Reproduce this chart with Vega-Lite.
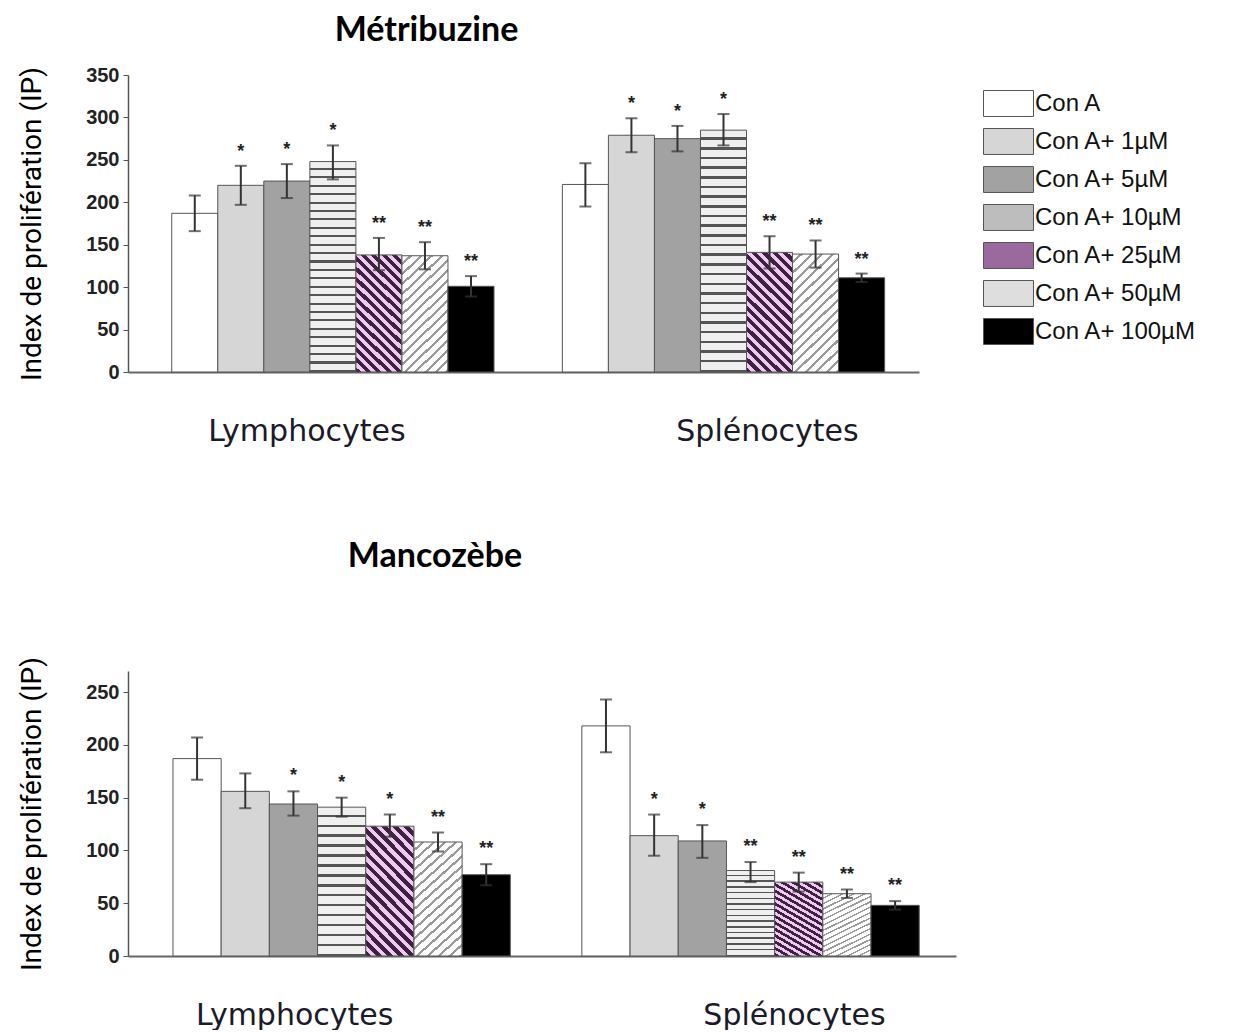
{
  "$schema": "https://vega.github.io/schema/vega-lite/v6.json",
  "background": "white",
  "padding": {"left": 18, "top": 14, "right": 5, "bottom": 0},
  "spacing": 94,
  "resolve": {"scale": {"xOffset": "independent", "x": "independent", "y": "independent"}},
  "config": {
    "view": {"stroke": null},
    "axisY": {"labelFont": "Liberation Sans", "labelFontSize": 20, "labelFontWeight": "bold", "labelColor": "#222", "labelPadding": 4, "tickSize": 5, "tickColor": "#555", "domainColor": "#555", "domainWidth": 1.5, "grid": false, "titleFont": "Roboto", "titleFontSize": 28, "titleFontWeight": "normal", "titleColor": "#000", "titlePadding": 39},
    "axisX": {"labelFont": "DejaVu Sans", "labelFontSize": 30, "labelColor": "#1a1a2a", "labelPadding": 44, "labelLimit": 500, "ticks": false, "domainColor": "#666", "domainWidth": 2, "labelAngle": 0}
  },
  "datasets": {
    "metri": [
      {"cell": "Lymphocytes", "dose": "Con A", "value": 187, "lo": 166, "hi": 208, "sig": ""},
      {"cell": "Lymphocytes", "dose": "Con A+ 1µM", "value": 220, "lo": 197, "hi": 243, "sig": "*"},
      {"cell": "Lymphocytes", "dose": "Con A+ 5µM", "value": 225, "lo": 205, "hi": 245, "sig": "*"},
      {"cell": "Lymphocytes", "dose": "Con A+ 10µM", "value": 248, "lo": 227, "hi": 267, "sig": "*"},
      {"cell": "Lymphocytes", "dose": "Con A+ 25µM", "value": 138, "lo": 120, "hi": 158, "sig": "**"},
      {"cell": "Lymphocytes", "dose": "Con A+ 50µM", "value": 137, "lo": 121, "hi": 153, "sig": "**"},
      {"cell": "Lymphocytes", "dose": "Con A+ 100µM", "value": 101, "lo": 89, "hi": 113, "sig": "**"},
      {"cell": "Splénocytes", "dose": "Con A", "value": 221, "lo": 195, "hi": 246, "sig": ""},
      {"cell": "Splénocytes", "dose": "Con A+ 1µM", "value": 279, "lo": 259, "hi": 299, "sig": "*"},
      {"cell": "Splénocytes", "dose": "Con A+ 5µM", "value": 275, "lo": 260, "hi": 290, "sig": "*"},
      {"cell": "Splénocytes", "dose": "Con A+ 10µM", "value": 285, "lo": 267, "hi": 304, "sig": "*"},
      {"cell": "Splénocytes", "dose": "Con A+ 25µM", "value": 141, "lo": 122, "hi": 160, "sig": "**"},
      {"cell": "Splénocytes", "dose": "Con A+ 50µM", "value": 139, "lo": 123, "hi": 155, "sig": "**"},
      {"cell": "Splénocytes", "dose": "Con A+ 100µM", "value": 111, "lo": 106, "hi": 116, "sig": "**"}
    ],
    "manco": [
      {"cell": "Lymphocytes", "dose": "Con A", "value": 187, "lo": 167, "hi": 207, "sig": ""},
      {"cell": "Lymphocytes", "dose": "Con A+ 1µM", "value": 156, "lo": 140, "hi": 173, "sig": ""},
      {"cell": "Lymphocytes", "dose": "Con A+ 5µM", "value": 144, "lo": 133, "hi": 156, "sig": "*"},
      {"cell": "Lymphocytes", "dose": "Con A+ 10µM", "value": 141, "lo": 132, "hi": 150, "sig": "*"},
      {"cell": "Lymphocytes", "dose": "Con A+ 25µM", "value": 123, "lo": 113, "hi": 134, "sig": "*"},
      {"cell": "Lymphocytes", "dose": "Con A+ 50µM", "value": 108, "lo": 99, "hi": 117, "sig": "**"},
      {"cell": "Lymphocytes", "dose": "Con A+ 100µM", "value": 77, "lo": 67, "hi": 87, "sig": "**"},
      {"cell": "Splénocytes", "dose": "Con A", "value": 218, "lo": 193, "hi": 243, "sig": ""},
      {"cell": "Splénocytes", "dose": "Con A+ 1µM", "value": 114, "lo": 95, "hi": 134, "sig": "*"},
      {"cell": "Splénocytes", "dose": "Con A+ 5µM", "value": 109, "lo": 93, "hi": 124, "sig": "*"},
      {"cell": "Splénocytes", "dose": "Con A+ 10µM", "value": 81, "lo": 70, "hi": 89, "sig": "**"},
      {"cell": "Splénocytes", "dose": "Con A+ 25µM", "value": 70, "lo": 61, "hi": 79, "sig": "**"},
      {"cell": "Splénocytes", "dose": "Con A+ 50µM", "value": 59, "lo": 55, "hi": 63, "sig": "**"},
      {"cell": "Splénocytes", "dose": "Con A+ 100µM", "value": 48, "lo": 44, "hi": 52, "sig": "**"}
    ]
  },
  "vconcat": [
    {
      "title": {"text": "Métribuzine", "font": "Lato", "fontSize": 34, "fontWeight": "bold", "color": "#000", "anchor": "middle", "frame": "group", "dx": -97, "baseline": "alphabetic", "offset": -10},
      "width": 791,
      "height": 297,
      "data": {"name": "metri"},
      "encoding": {
        "x": {"field": "cell", "type": "nominal", "title": null, "sort": ["Lymphocytes", "Splénocytes"], "scale": {"paddingInner": 0.175, "paddingOuter": 0.1, "align": 0.56}, "axis": {"labelOffset": {"condition": {"test": "datum.value === 'Lymphocytes'", "value": -26}, "value": 44}}},
        "xOffset": {"field": "dose", "type": "nominal", "sort": ["Con A", "Con A+ 1µM", "Con A+ 5µM", "Con A+ 10µM", "Con A+ 25µM", "Con A+ 50µM", "Con A+ 100µM"], "scale": {"paddingInner": 0, "paddingOuter": 0}}
      },
      "layer": [
        {
          "mark": {"type": "bar", "stroke": "#555", "strokeWidth": 1},
          "encoding": {
            "y": {"field": "value", "type": "quantitative", "title": "Index de prolifération (IP)", "scale": {"domain": [0, 350], "nice": false}, "axis": {"values": [0, 50, 100, 150, 200, 250, 300, 350]}},
            "fill": {
              "condition": [
                {"test": "datum.dose === 'Con A+ 10µM'", "value": {"gradient": "linear", "x1": 0, "y1": 0, "x2": 0, "y2": 1, "stops": [
                    {"offset": 0, "color": "#efefef"}, {"offset": 0.03, "color": "#efefef"}, {"offset": 0.03, "color": "#555555"}, {"offset": 0.04, "color": "#555555"},
                    {"offset": 0.04, "color": "#efefef"}, {"offset": 0.07, "color": "#efefef"}, {"offset": 0.07, "color": "#555555"}, {"offset": 0.08, "color": "#555555"},
                    {"offset": 0.08, "color": "#efefef"}, {"offset": 0.11, "color": "#efefef"}, {"offset": 0.11, "color": "#555555"}, {"offset": 0.12, "color": "#555555"},
                    {"offset": 0.12, "color": "#efefef"}, {"offset": 0.15, "color": "#efefef"}, {"offset": 0.15, "color": "#555555"}, {"offset": 0.16, "color": "#555555"},
                    {"offset": 0.16, "color": "#efefef"}, {"offset": 0.19, "color": "#efefef"}, {"offset": 0.19, "color": "#555555"}, {"offset": 0.2, "color": "#555555"},
                    {"offset": 0.2, "color": "#efefef"}, {"offset": 0.23, "color": "#efefef"}, {"offset": 0.23, "color": "#555555"}, {"offset": 0.24, "color": "#555555"},
                    {"offset": 0.24, "color": "#efefef"}, {"offset": 0.27, "color": "#efefef"}, {"offset": 0.27, "color": "#555555"}, {"offset": 0.28, "color": "#555555"},
                    {"offset": 0.28, "color": "#efefef"}, {"offset": 0.31, "color": "#efefef"}, {"offset": 0.31, "color": "#555555"}, {"offset": 0.32, "color": "#555555"},
                    {"offset": 0.32, "color": "#efefef"}, {"offset": 0.35, "color": "#efefef"}, {"offset": 0.35, "color": "#555555"}, {"offset": 0.36, "color": "#555555"},
                    {"offset": 0.36, "color": "#efefef"}, {"offset": 0.39, "color": "#efefef"}, {"offset": 0.39, "color": "#555555"}, {"offset": 0.4, "color": "#555555"},
                    {"offset": 0.4, "color": "#efefef"}, {"offset": 0.43, "color": "#efefef"}, {"offset": 0.43, "color": "#555555"}, {"offset": 0.44, "color": "#555555"},
                    {"offset": 0.44, "color": "#efefef"}, {"offset": 0.47, "color": "#efefef"}, {"offset": 0.47, "color": "#555555"}, {"offset": 0.48, "color": "#555555"},
                    {"offset": 0.48, "color": "#efefef"}, {"offset": 0.51, "color": "#efefef"}, {"offset": 0.51, "color": "#555555"}, {"offset": 0.52, "color": "#555555"},
                    {"offset": 0.52, "color": "#efefef"}, {"offset": 0.55, "color": "#efefef"}, {"offset": 0.55, "color": "#555555"}, {"offset": 0.56, "color": "#555555"},
                    {"offset": 0.56, "color": "#efefef"}, {"offset": 0.59, "color": "#efefef"}, {"offset": 0.59, "color": "#555555"}, {"offset": 0.6, "color": "#555555"},
                    {"offset": 0.6, "color": "#efefef"}, {"offset": 0.63, "color": "#efefef"}, {"offset": 0.63, "color": "#555555"}, {"offset": 0.64, "color": "#555555"},
                    {"offset": 0.64, "color": "#efefef"}, {"offset": 0.67, "color": "#efefef"}, {"offset": 0.67, "color": "#555555"}, {"offset": 0.68, "color": "#555555"},
                    {"offset": 0.68, "color": "#efefef"}, {"offset": 0.71, "color": "#efefef"}, {"offset": 0.71, "color": "#555555"}, {"offset": 0.72, "color": "#555555"},
                    {"offset": 0.72, "color": "#efefef"}, {"offset": 0.75, "color": "#efefef"}, {"offset": 0.75, "color": "#555555"}, {"offset": 0.76, "color": "#555555"},
                    {"offset": 0.76, "color": "#efefef"}, {"offset": 0.79, "color": "#efefef"}, {"offset": 0.79, "color": "#555555"}, {"offset": 0.8, "color": "#555555"},
                    {"offset": 0.8, "color": "#efefef"}, {"offset": 0.83, "color": "#efefef"}, {"offset": 0.83, "color": "#555555"}, {"offset": 0.84, "color": "#555555"},
                    {"offset": 0.84, "color": "#efefef"}, {"offset": 0.87, "color": "#efefef"}, {"offset": 0.87, "color": "#555555"}, {"offset": 0.88, "color": "#555555"},
                    {"offset": 0.88, "color": "#efefef"}, {"offset": 0.91, "color": "#efefef"}, {"offset": 0.91, "color": "#555555"}, {"offset": 0.92, "color": "#555555"},
                    {"offset": 0.92, "color": "#efefef"}, {"offset": 0.95, "color": "#efefef"}, {"offset": 0.95, "color": "#555555"}, {"offset": 0.96, "color": "#555555"},
                    {"offset": 0.96, "color": "#efefef"}, {"offset": 0.99, "color": "#efefef"}, {"offset": 0.99, "color": "#555555"}, {"offset": 1, "color": "#555555"}
                  ]}},
                {"test": "datum.dose === 'Con A+ 25µM'", "value": {"gradient": "linear", "x1": 1, "y1": 0, "x2": 0.542, "y2": 1.206, "stops": [
                    {"offset": 0, "color": "#efc9ef"}, {"offset": 0.03125, "color": "#efc9ef"}, {"offset": 0.03125, "color": "#3d2140"}, {"offset": 0.0625, "color": "#3d2140"},
                    {"offset": 0.0625, "color": "#efc9ef"}, {"offset": 0.09375, "color": "#efc9ef"}, {"offset": 0.09375, "color": "#3d2140"}, {"offset": 0.125, "color": "#3d2140"},
                    {"offset": 0.125, "color": "#efc9ef"}, {"offset": 0.15625, "color": "#efc9ef"}, {"offset": 0.15625, "color": "#3d2140"}, {"offset": 0.1875, "color": "#3d2140"},
                    {"offset": 0.1875, "color": "#efc9ef"}, {"offset": 0.21875, "color": "#efc9ef"}, {"offset": 0.21875, "color": "#3d2140"}, {"offset": 0.25, "color": "#3d2140"},
                    {"offset": 0.25, "color": "#efc9ef"}, {"offset": 0.28125, "color": "#efc9ef"}, {"offset": 0.28125, "color": "#3d2140"}, {"offset": 0.3125, "color": "#3d2140"},
                    {"offset": 0.3125, "color": "#efc9ef"}, {"offset": 0.34375, "color": "#efc9ef"}, {"offset": 0.34375, "color": "#3d2140"}, {"offset": 0.375, "color": "#3d2140"},
                    {"offset": 0.375, "color": "#efc9ef"}, {"offset": 0.40625, "color": "#efc9ef"}, {"offset": 0.40625, "color": "#3d2140"}, {"offset": 0.4375, "color": "#3d2140"},
                    {"offset": 0.4375, "color": "#efc9ef"}, {"offset": 0.46875, "color": "#efc9ef"}, {"offset": 0.46875, "color": "#3d2140"}, {"offset": 0.5, "color": "#3d2140"},
                    {"offset": 0.5, "color": "#efc9ef"}, {"offset": 0.53125, "color": "#efc9ef"}, {"offset": 0.53125, "color": "#3d2140"}, {"offset": 0.5625, "color": "#3d2140"},
                    {"offset": 0.5625, "color": "#efc9ef"}, {"offset": 0.59375, "color": "#efc9ef"}, {"offset": 0.59375, "color": "#3d2140"}, {"offset": 0.625, "color": "#3d2140"},
                    {"offset": 0.625, "color": "#efc9ef"}, {"offset": 0.65625, "color": "#efc9ef"}, {"offset": 0.65625, "color": "#3d2140"}, {"offset": 0.6875, "color": "#3d2140"},
                    {"offset": 0.6875, "color": "#efc9ef"}, {"offset": 0.71875, "color": "#efc9ef"}, {"offset": 0.71875, "color": "#3d2140"}, {"offset": 0.75, "color": "#3d2140"},
                    {"offset": 0.75, "color": "#efc9ef"}, {"offset": 0.78125, "color": "#efc9ef"}, {"offset": 0.78125, "color": "#3d2140"}, {"offset": 0.8125, "color": "#3d2140"},
                    {"offset": 0.8125, "color": "#efc9ef"}, {"offset": 0.84375, "color": "#efc9ef"}, {"offset": 0.84375, "color": "#3d2140"}, {"offset": 0.875, "color": "#3d2140"},
                    {"offset": 0.875, "color": "#efc9ef"}, {"offset": 0.90625, "color": "#efc9ef"}, {"offset": 0.90625, "color": "#3d2140"}, {"offset": 0.9375, "color": "#3d2140"},
                    {"offset": 0.9375, "color": "#efc9ef"}, {"offset": 0.96875, "color": "#efc9ef"}, {"offset": 0.96875, "color": "#3d2140"}, {"offset": 1, "color": "#3d2140"}
                  ]}},
                {"test": "datum.dose === 'Con A+ 50µM'", "value": {"gradient": "linear", "x1": 0, "y1": 0, "x2": 0.458, "y2": 1.206, "stops": [
                    {"offset": 0, "color": "#ffffff"}, {"offset": 0.04375, "color": "#ffffff"}, {"offset": 0.04375, "color": "#9a9a9a"}, {"offset": 0.0625, "color": "#9a9a9a"},
                    {"offset": 0.0625, "color": "#ffffff"}, {"offset": 0.10625, "color": "#ffffff"}, {"offset": 0.10625, "color": "#9a9a9a"}, {"offset": 0.125, "color": "#9a9a9a"},
                    {"offset": 0.125, "color": "#ffffff"}, {"offset": 0.16875, "color": "#ffffff"}, {"offset": 0.16875, "color": "#9a9a9a"}, {"offset": 0.1875, "color": "#9a9a9a"},
                    {"offset": 0.1875, "color": "#ffffff"}, {"offset": 0.23125, "color": "#ffffff"}, {"offset": 0.23125, "color": "#9a9a9a"}, {"offset": 0.25, "color": "#9a9a9a"},
                    {"offset": 0.25, "color": "#ffffff"}, {"offset": 0.29375, "color": "#ffffff"}, {"offset": 0.29375, "color": "#9a9a9a"}, {"offset": 0.3125, "color": "#9a9a9a"},
                    {"offset": 0.3125, "color": "#ffffff"}, {"offset": 0.35625, "color": "#ffffff"}, {"offset": 0.35625, "color": "#9a9a9a"}, {"offset": 0.375, "color": "#9a9a9a"},
                    {"offset": 0.375, "color": "#ffffff"}, {"offset": 0.41875, "color": "#ffffff"}, {"offset": 0.41875, "color": "#9a9a9a"}, {"offset": 0.4375, "color": "#9a9a9a"},
                    {"offset": 0.4375, "color": "#ffffff"}, {"offset": 0.48125, "color": "#ffffff"}, {"offset": 0.48125, "color": "#9a9a9a"}, {"offset": 0.5, "color": "#9a9a9a"},
                    {"offset": 0.5, "color": "#ffffff"}, {"offset": 0.54375, "color": "#ffffff"}, {"offset": 0.54375, "color": "#9a9a9a"}, {"offset": 0.5625, "color": "#9a9a9a"},
                    {"offset": 0.5625, "color": "#ffffff"}, {"offset": 0.60625, "color": "#ffffff"}, {"offset": 0.60625, "color": "#9a9a9a"}, {"offset": 0.625, "color": "#9a9a9a"},
                    {"offset": 0.625, "color": "#ffffff"}, {"offset": 0.66875, "color": "#ffffff"}, {"offset": 0.66875, "color": "#9a9a9a"}, {"offset": 0.6875, "color": "#9a9a9a"},
                    {"offset": 0.6875, "color": "#ffffff"}, {"offset": 0.73125, "color": "#ffffff"}, {"offset": 0.73125, "color": "#9a9a9a"}, {"offset": 0.75, "color": "#9a9a9a"},
                    {"offset": 0.75, "color": "#ffffff"}, {"offset": 0.79375, "color": "#ffffff"}, {"offset": 0.79375, "color": "#9a9a9a"}, {"offset": 0.8125, "color": "#9a9a9a"},
                    {"offset": 0.8125, "color": "#ffffff"}, {"offset": 0.85625, "color": "#ffffff"}, {"offset": 0.85625, "color": "#9a9a9a"}, {"offset": 0.875, "color": "#9a9a9a"},
                    {"offset": 0.875, "color": "#ffffff"}, {"offset": 0.91875, "color": "#ffffff"}, {"offset": 0.91875, "color": "#9a9a9a"}, {"offset": 0.9375, "color": "#9a9a9a"},
                    {"offset": 0.9375, "color": "#ffffff"}, {"offset": 0.98125, "color": "#ffffff"}, {"offset": 0.98125, "color": "#9a9a9a"}, {"offset": 1, "color": "#9a9a9a"}
                  ]}}
              ],
              "field": "dose", "type": "nominal",
              "scale": {
                "domain": ["Con A", "Con A+ 1µM", "Con A+ 5µM", "Con A+ 10µM", "Con A+ 25µM", "Con A+ 50µM", "Con A+ 100µM"],
                "range": ["#ffffff", "#d6d6d6", "#a2a2a2", "#bdbdbd", "#9a6a9e", "#dedede", "#000000"]
              },
              "legend": {"orient": "none", "legendX": 858, "legendY": 6, "title": null, "symbolType": "M-1.136,-0.59H1.136V0.59H-1.136Z", "symbolSize": 1936, "symbolStrokeColor": "#777", "symbolStrokeWidth": 1, "labelFont": "Liberation Sans", "labelFontSize": 24, "labelColor": "#111", "labelOffset": 4, "rowPadding": 0, "labelLimit": 300}
            }
          }
        },
        {
          "mark": {"type": "rule", "color": "#333", "strokeWidth": 2},
          "encoding": {"y": {"field": "lo", "type": "quantitative", "title": "Index de prolifération (IP)"}, "y2": {"field": "hi"}}
        },
        {
          "mark": {"type": "tick", "color": "#333", "thickness": 2, "size": 12},
          "encoding": {"y": {"field": "hi", "type": "quantitative", "title": "Index de prolifération (IP)"}}
        },
        {
          "mark": {"type": "tick", "color": "#333", "thickness": 2, "size": 12},
          "encoding": {"y": {"field": "lo", "type": "quantitative", "title": "Index de prolifération (IP)"}}
        },
        {
          "mark": {"type": "text", "dy": -9, "fontSize": 18, "fontWeight": "bold", "baseline": "alphabetic", "font": "Liberation Sans", "color": "#222"},
          "encoding": {"y": {"field": "hi", "type": "quantitative", "title": "Index de prolifération (IP)"}, "text": {"field": "sig"}}
        }
      ]
    },
    {
      "title": {"text": "Mancozèbe", "font": "Lato", "fontSize": 34, "fontWeight": "bold", "color": "#000", "anchor": "middle", "frame": "group", "dx": -107, "baseline": "alphabetic", "offset": 55},
      "width": 828,
      "height": 285,
      "data": {"name": "manco"},
      "encoding": {
        "x": {"field": "cell", "type": "nominal", "title": null, "sort": ["Lymphocytes", "Splénocytes"], "scale": {"paddingInner": 0.175, "paddingOuter": 0.1, "align": 0.55}, "axis": {"labelOffset": {"condition": {"test": "datum.value === 'Lymphocytes'", "value": -47}, "value": 44}}},
        "xOffset": {"field": "dose", "type": "nominal", "sort": ["Con A", "Con A+ 1µM", "Con A+ 5µM", "Con A+ 10µM", "Con A+ 25µM", "Con A+ 50µM", "Con A+ 100µM"], "scale": {"paddingInner": 0, "paddingOuter": 0}}
      },
      "layer": [
        {
          "mark": {"type": "bar", "stroke": "#555", "strokeWidth": 1},
          "encoding": {
            "y": {"field": "value", "type": "quantitative", "title": "Index de prolifération (IP)", "scale": {"domain": [0, 270], "nice": false}, "axis": {"values": [0, 50, 100, 150, 200, 250]}},
            "fill": {
              "condition": [
                {"test": "datum.dose === 'Con A+ 10µM'", "value": {"gradient": "linear", "x1": 0, "y1": 0, "x2": 0, "y2": 1, "stops": [
                    {"offset": 0, "color": "#efefef"}, {"offset": 0.05, "color": "#efefef"}, {"offset": 0.05, "color": "#555555"}, {"offset": 0.0667, "color": "#555555"},
                    {"offset": 0.0667, "color": "#efefef"}, {"offset": 0.1167, "color": "#efefef"}, {"offset": 0.1167, "color": "#555555"}, {"offset": 0.1333, "color": "#555555"},
                    {"offset": 0.1333, "color": "#efefef"}, {"offset": 0.1833, "color": "#efefef"}, {"offset": 0.1833, "color": "#555555"}, {"offset": 0.2, "color": "#555555"},
                    {"offset": 0.2, "color": "#efefef"}, {"offset": 0.25, "color": "#efefef"}, {"offset": 0.25, "color": "#555555"}, {"offset": 0.2667, "color": "#555555"},
                    {"offset": 0.2667, "color": "#efefef"}, {"offset": 0.3167, "color": "#efefef"}, {"offset": 0.3167, "color": "#555555"}, {"offset": 0.3333, "color": "#555555"},
                    {"offset": 0.3333, "color": "#efefef"}, {"offset": 0.3833, "color": "#efefef"}, {"offset": 0.3833, "color": "#555555"}, {"offset": 0.4, "color": "#555555"},
                    {"offset": 0.4, "color": "#efefef"}, {"offset": 0.45, "color": "#efefef"}, {"offset": 0.45, "color": "#555555"}, {"offset": 0.4667, "color": "#555555"},
                    {"offset": 0.4667, "color": "#efefef"}, {"offset": 0.5167, "color": "#efefef"}, {"offset": 0.5167, "color": "#555555"}, {"offset": 0.5333, "color": "#555555"},
                    {"offset": 0.5333, "color": "#efefef"}, {"offset": 0.5833, "color": "#efefef"}, {"offset": 0.5833, "color": "#555555"}, {"offset": 0.6, "color": "#555555"},
                    {"offset": 0.6, "color": "#efefef"}, {"offset": 0.65, "color": "#efefef"}, {"offset": 0.65, "color": "#555555"}, {"offset": 0.6667, "color": "#555555"},
                    {"offset": 0.6667, "color": "#efefef"}, {"offset": 0.7167, "color": "#efefef"}, {"offset": 0.7167, "color": "#555555"}, {"offset": 0.7333, "color": "#555555"},
                    {"offset": 0.7333, "color": "#efefef"}, {"offset": 0.7833, "color": "#efefef"}, {"offset": 0.7833, "color": "#555555"}, {"offset": 0.8, "color": "#555555"},
                    {"offset": 0.8, "color": "#efefef"}, {"offset": 0.85, "color": "#efefef"}, {"offset": 0.85, "color": "#555555"}, {"offset": 0.8667, "color": "#555555"},
                    {"offset": 0.8667, "color": "#efefef"}, {"offset": 0.9167, "color": "#efefef"}, {"offset": 0.9167, "color": "#555555"}, {"offset": 0.9333, "color": "#555555"},
                    {"offset": 0.9333, "color": "#efefef"}, {"offset": 0.9833, "color": "#efefef"}, {"offset": 0.9833, "color": "#555555"}, {"offset": 1, "color": "#555555"}
                  ]}},
                {"test": "datum.dose === 'Con A+ 25µM'", "value": {"gradient": "linear", "x1": 1, "y1": 0, "x2": 0.542, "y2": 1.206, "stops": [
                    {"offset": 0, "color": "#efc9ef"}, {"offset": 0.03125, "color": "#efc9ef"}, {"offset": 0.03125, "color": "#3d2140"}, {"offset": 0.0625, "color": "#3d2140"},
                    {"offset": 0.0625, "color": "#efc9ef"}, {"offset": 0.09375, "color": "#efc9ef"}, {"offset": 0.09375, "color": "#3d2140"}, {"offset": 0.125, "color": "#3d2140"},
                    {"offset": 0.125, "color": "#efc9ef"}, {"offset": 0.15625, "color": "#efc9ef"}, {"offset": 0.15625, "color": "#3d2140"}, {"offset": 0.1875, "color": "#3d2140"},
                    {"offset": 0.1875, "color": "#efc9ef"}, {"offset": 0.21875, "color": "#efc9ef"}, {"offset": 0.21875, "color": "#3d2140"}, {"offset": 0.25, "color": "#3d2140"},
                    {"offset": 0.25, "color": "#efc9ef"}, {"offset": 0.28125, "color": "#efc9ef"}, {"offset": 0.28125, "color": "#3d2140"}, {"offset": 0.3125, "color": "#3d2140"},
                    {"offset": 0.3125, "color": "#efc9ef"}, {"offset": 0.34375, "color": "#efc9ef"}, {"offset": 0.34375, "color": "#3d2140"}, {"offset": 0.375, "color": "#3d2140"},
                    {"offset": 0.375, "color": "#efc9ef"}, {"offset": 0.40625, "color": "#efc9ef"}, {"offset": 0.40625, "color": "#3d2140"}, {"offset": 0.4375, "color": "#3d2140"},
                    {"offset": 0.4375, "color": "#efc9ef"}, {"offset": 0.46875, "color": "#efc9ef"}, {"offset": 0.46875, "color": "#3d2140"}, {"offset": 0.5, "color": "#3d2140"},
                    {"offset": 0.5, "color": "#efc9ef"}, {"offset": 0.53125, "color": "#efc9ef"}, {"offset": 0.53125, "color": "#3d2140"}, {"offset": 0.5625, "color": "#3d2140"},
                    {"offset": 0.5625, "color": "#efc9ef"}, {"offset": 0.59375, "color": "#efc9ef"}, {"offset": 0.59375, "color": "#3d2140"}, {"offset": 0.625, "color": "#3d2140"},
                    {"offset": 0.625, "color": "#efc9ef"}, {"offset": 0.65625, "color": "#efc9ef"}, {"offset": 0.65625, "color": "#3d2140"}, {"offset": 0.6875, "color": "#3d2140"},
                    {"offset": 0.6875, "color": "#efc9ef"}, {"offset": 0.71875, "color": "#efc9ef"}, {"offset": 0.71875, "color": "#3d2140"}, {"offset": 0.75, "color": "#3d2140"},
                    {"offset": 0.75, "color": "#efc9ef"}, {"offset": 0.78125, "color": "#efc9ef"}, {"offset": 0.78125, "color": "#3d2140"}, {"offset": 0.8125, "color": "#3d2140"},
                    {"offset": 0.8125, "color": "#efc9ef"}, {"offset": 0.84375, "color": "#efc9ef"}, {"offset": 0.84375, "color": "#3d2140"}, {"offset": 0.875, "color": "#3d2140"},
                    {"offset": 0.875, "color": "#efc9ef"}, {"offset": 0.90625, "color": "#efc9ef"}, {"offset": 0.90625, "color": "#3d2140"}, {"offset": 0.9375, "color": "#3d2140"},
                    {"offset": 0.9375, "color": "#efc9ef"}, {"offset": 0.96875, "color": "#efc9ef"}, {"offset": 0.96875, "color": "#3d2140"}, {"offset": 1, "color": "#3d2140"}
                  ]}},
                {"test": "datum.dose === 'Con A+ 50µM'", "value": {"gradient": "linear", "x1": 0, "y1": 0, "x2": 0.458, "y2": 1.206, "stops": [
                    {"offset": 0, "color": "#ffffff"}, {"offset": 0.04375, "color": "#ffffff"}, {"offset": 0.04375, "color": "#9a9a9a"}, {"offset": 0.0625, "color": "#9a9a9a"},
                    {"offset": 0.0625, "color": "#ffffff"}, {"offset": 0.10625, "color": "#ffffff"}, {"offset": 0.10625, "color": "#9a9a9a"}, {"offset": 0.125, "color": "#9a9a9a"},
                    {"offset": 0.125, "color": "#ffffff"}, {"offset": 0.16875, "color": "#ffffff"}, {"offset": 0.16875, "color": "#9a9a9a"}, {"offset": 0.1875, "color": "#9a9a9a"},
                    {"offset": 0.1875, "color": "#ffffff"}, {"offset": 0.23125, "color": "#ffffff"}, {"offset": 0.23125, "color": "#9a9a9a"}, {"offset": 0.25, "color": "#9a9a9a"},
                    {"offset": 0.25, "color": "#ffffff"}, {"offset": 0.29375, "color": "#ffffff"}, {"offset": 0.29375, "color": "#9a9a9a"}, {"offset": 0.3125, "color": "#9a9a9a"},
                    {"offset": 0.3125, "color": "#ffffff"}, {"offset": 0.35625, "color": "#ffffff"}, {"offset": 0.35625, "color": "#9a9a9a"}, {"offset": 0.375, "color": "#9a9a9a"},
                    {"offset": 0.375, "color": "#ffffff"}, {"offset": 0.41875, "color": "#ffffff"}, {"offset": 0.41875, "color": "#9a9a9a"}, {"offset": 0.4375, "color": "#9a9a9a"},
                    {"offset": 0.4375, "color": "#ffffff"}, {"offset": 0.48125, "color": "#ffffff"}, {"offset": 0.48125, "color": "#9a9a9a"}, {"offset": 0.5, "color": "#9a9a9a"},
                    {"offset": 0.5, "color": "#ffffff"}, {"offset": 0.54375, "color": "#ffffff"}, {"offset": 0.54375, "color": "#9a9a9a"}, {"offset": 0.5625, "color": "#9a9a9a"},
                    {"offset": 0.5625, "color": "#ffffff"}, {"offset": 0.60625, "color": "#ffffff"}, {"offset": 0.60625, "color": "#9a9a9a"}, {"offset": 0.625, "color": "#9a9a9a"},
                    {"offset": 0.625, "color": "#ffffff"}, {"offset": 0.66875, "color": "#ffffff"}, {"offset": 0.66875, "color": "#9a9a9a"}, {"offset": 0.6875, "color": "#9a9a9a"},
                    {"offset": 0.6875, "color": "#ffffff"}, {"offset": 0.73125, "color": "#ffffff"}, {"offset": 0.73125, "color": "#9a9a9a"}, {"offset": 0.75, "color": "#9a9a9a"},
                    {"offset": 0.75, "color": "#ffffff"}, {"offset": 0.79375, "color": "#ffffff"}, {"offset": 0.79375, "color": "#9a9a9a"}, {"offset": 0.8125, "color": "#9a9a9a"},
                    {"offset": 0.8125, "color": "#ffffff"}, {"offset": 0.85625, "color": "#ffffff"}, {"offset": 0.85625, "color": "#9a9a9a"}, {"offset": 0.875, "color": "#9a9a9a"},
                    {"offset": 0.875, "color": "#ffffff"}, {"offset": 0.91875, "color": "#ffffff"}, {"offset": 0.91875, "color": "#9a9a9a"}, {"offset": 0.9375, "color": "#9a9a9a"},
                    {"offset": 0.9375, "color": "#ffffff"}, {"offset": 0.98125, "color": "#ffffff"}, {"offset": 0.98125, "color": "#9a9a9a"}, {"offset": 1, "color": "#9a9a9a"}
                  ]}}
              ],
              "field": "dose", "type": "nominal",
              "scale": {"domain": ["Con A", "Con A+ 1µM", "Con A+ 5µM", "Con A+ 10µM", "Con A+ 25µM", "Con A+ 50µM", "Con A+ 100µM"]}
            }
          }
        },
        {
          "mark": {"type": "rule", "color": "#333", "strokeWidth": 2},
          "encoding": {"y": {"field": "lo", "type": "quantitative", "title": "Index de prolifération (IP)"}, "y2": {"field": "hi"}}
        },
        {
          "mark": {"type": "tick", "color": "#333", "thickness": 2, "size": 12},
          "encoding": {"y": {"field": "hi", "type": "quantitative", "title": "Index de prolifération (IP)"}}
        },
        {
          "mark": {"type": "tick", "color": "#333", "thickness": 2, "size": 12},
          "encoding": {"y": {"field": "lo", "type": "quantitative", "title": "Index de prolifération (IP)"}}
        },
        {
          "mark": {"type": "text", "dy": -10, "fontSize": 18, "fontWeight": "bold", "baseline": "alphabetic", "font": "Liberation Sans", "color": "#222"},
          "encoding": {"y": {"field": "hi", "type": "quantitative", "title": "Index de prolifération (IP)"}, "text": {"field": "sig"}}
        }
      ]
    }
  ]
}
